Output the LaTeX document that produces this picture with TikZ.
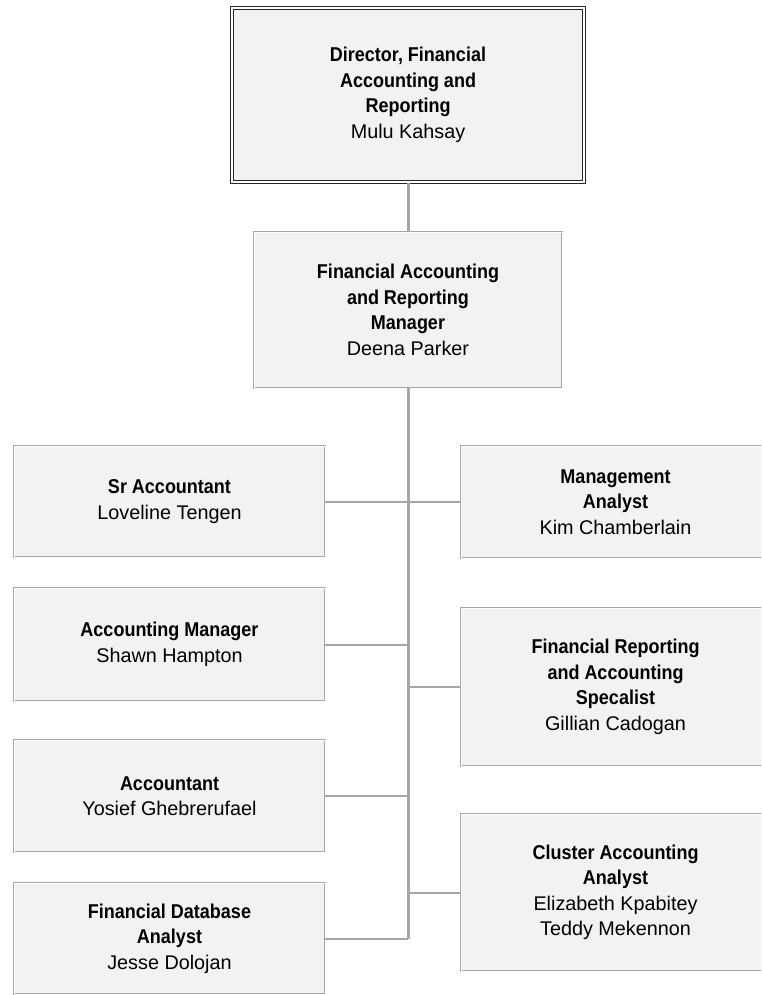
\documentclass[tikz,border=0pt]{standalone}
\usepackage{fontspec}
\setmainfont{Liberation Sans}
\newfontfamily\titlefont{Liberation Sans}[FakeStretch=0.9]
\definecolor{boxfill}{HTML}{F2F2F2}
\definecolor{boxline}{HTML}{A6A6A6}
\definecolor{linkline}{HTML}{A6A6A6}
\newcommand\roletitle[1]{{\titlefont\fontsize{20}{25.5}\selectfont\bfseries #1}}
\newcommand\person[1]{{\fontsize{19.8}{25.5}\selectfont #1}}
\begin{document}
\begin{tikzpicture}[x=1pt,y=-1pt,
  orgbox/.style={draw=boxline, double=white, double distance=1pt, line width=0.9pt,
    fill=boxfill, inner sep=0pt, align=center, text=black,
    font=\fontsize{19.8}{25.5}\selectfont},
  topbox/.style={orgbox, draw=black!85, line width=1.1pt, double distance=1.2pt},
  link/.style={draw=linkline, line width=2pt},
  trunk/.style={draw=linkline, line width=3pt}]
  \useasboundingbox (0,0) rectangle (761,995);
  \clip (0,0) rectangle (761,995);

  % head of the unit
  \node[topbox, minimum width=352pt, minimum height=174pt] (dir) at (408,95)
    {\roletitle{Director, Financial}\\ \roletitle{Accounting and}\\ \roletitle{Reporting}\\ \person{Mulu Kahsay}};

  % manager
  \node[orgbox, minimum width=308pt, minimum height=156pt] (mgr) at (408,310)
    {\roletitle{Financial Accounting}\\ \roletitle{and Reporting}\\ \roletitle{Manager}\\ \person{Deena Parker}};

  % left column
  \node[orgbox, minimum width=311pt, minimum height=111pt] (sr) at (169.5,501.5)
    {\roletitle{Sr Accountant}\\ \person{Loveline Tengen}};
  \node[orgbox, minimum width=311pt, minimum height=113pt] (accmgr) at (169.5,644.5)
    {\roletitle{Accounting Manager}\\ \person{Shawn Hampton}};
  \node[orgbox, minimum width=311pt, minimum height=112pt] (acct) at (169.5,796)
    {\roletitle{Accountant}\\ \person{Yosief Ghebrerufael}};
  \node[orgbox, minimum width=311pt, minimum height=111pt] (fdb) at (169.5,938.5)
    {\roletitle{Financial Database}\\ \roletitle{Analyst}\\ \person{Jesse Dolojan}};

  % right column
  \node[orgbox, minimum width=309pt, minimum height=112pt] (ma) at (615.5,502)
    {\roletitle{Management}\\ \roletitle{Analyst}\\ \person{Kim Chamberlain}};
  \node[orgbox, minimum width=309pt, minimum height=158pt] (frs) at (615.5,687)
    {\roletitle{Financial Reporting}\\ \roletitle{and Accounting}\\ \roletitle{Specalist}\\ \person{Gillian Cadogan}};
  \node[orgbox, minimum width=309pt, minimum height=157pt] (cl) at (615.5,892.5)
    {\roletitle{Cluster Accounting}\\ \roletitle{Analyst}\\ \person{Elizabeth Kpabitey}\\ \person{Teddy Mekennon}};

  % reporting lines
  \draw[trunk] (dir.south) -- (mgr.north);
  \draw[trunk] (mgr.south) -- (mgr.south |- fdb.east);
  \foreach \b in {sr,accmgr,acct,fdb}
    \draw[link] (\b.east) -- (\b.east -| mgr.south);
  \foreach \b in {ma,frs,cl}
    \draw[link] (\b.west) -- (\b.west -| mgr.south);
\end{tikzpicture}
\end{document}
